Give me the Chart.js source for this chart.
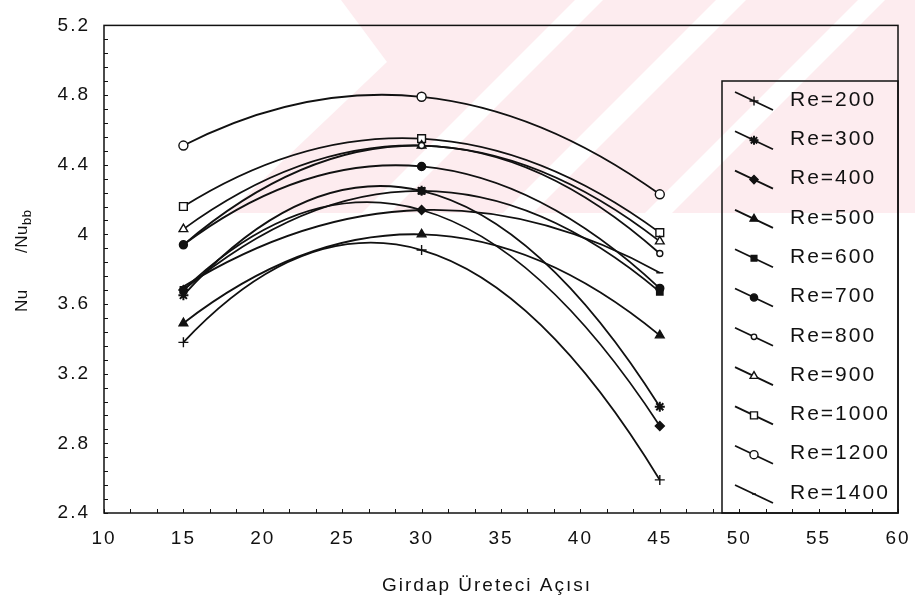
<!DOCTYPE html>
<html>
<head>
<meta charset="utf-8">
<script src="https://cdn.jsdelivr.net/npm/chart.js@4.4.0/dist/chart.umd.min.js"></script>
<style>
    html, body { margin: 0; padding: 0; background: #fff; }
    #wrap { width: 915px; height: 596px; }
</style>
</head>
<body>
<div id="wrap"><canvas id="nuChart" width="915" height="596"></canvas></div>
<script>
// Girdap üreteci açısı (x ekseni)
var angles = [15, 30, 45];
var reLabels = ['Re=200', 'Re=300', 'Re=400', 'Re=500', 'Re=600', 'Re=700',
                'Re=800', 'Re=900', 'Re=1000', 'Re=1200', 'Re=1400'];

// Nu/Nu_bb degerleri, aci sirasiyla 15, 30, 45
var re200  = [3.38, 3.91, 2.59];
var re300  = [3.65, 4.25, 3.01];
var re400  = [3.68, 4.14, 2.90];
var re500  = [3.49, 4.00, 3.42];
var re600  = [3.68, 4.25, 3.67];
var re700  = [3.94, 4.39, 3.69];
var re800  = [3.94, 4.51, 3.89];
var re900  = [4.03, 4.51, 3.96];
var re1000 = [4.16, 4.55, 4.01];
var re1200 = [4.51, 4.79, 4.23];
var re1400 = [3.70, 4.14, 3.78];

var xTicks = [10, 15, 20, 25, 30, 35, 40, 45, 50, 55, 60];
var yTicks = [2.4, 2.8, 3.2, 3.6, 4, 4.4, 4.8, 5.2];

var seriesValues = [re200, re300, re400, re500, re600, re700, re800, re900, re1000, re1200, re1400];

// isaret stilleri
var pointStyles = ['cross', 'star', 'rectRot', 'triangle', 'rect', 'circle', 'circle', 'triangle', 'rect', 'circle', 'line'];
var filled      = [false, true, true, true, true, true, false, false, false, false, false];
var radii       = [5, 5, 4.5, 5, 4.5, 4, 3, 5, 5.5, 4.5, 3.5];

var FONT = '"Liberation Sans", Arial, sans-serif';
var INK = '#111';

Chart.defaults.font.family = FONT;
Chart.defaults.color = INK;

// Soluk pembe filigran (arka plan)
var watermark = {
    id: 'watermark',
    beforeDraw: function (chart) {
        var ctx = chart.ctx;
        ctx.save();
        ctx.fillStyle = '#fff';
        ctx.fillRect(0, 0, chart.width, chart.height);
        ctx.fillStyle = '#fdecef';
        ctx.beginPath();
        ctx.moveTo(341, 0); ctx.lineTo(915, 0); ctx.lineTo(915, 213);
        ctx.lineTo(228, 213); ctx.lineTo(387, 62);
        ctx.closePath();
        ctx.fill();
        ctx.fillStyle = '#fff';
        [[575, 28], [716, 30], [858, 27]].forEach(function (s) {
            ctx.beginPath();
            ctx.moveTo(s[0], 0); ctx.lineTo(s[0] + s[1], 0);
            ctx.lineTo(s[0] + s[1] - 213, 213); ctx.lineTo(s[0] - 213, 213);
            ctx.closePath();
            ctx.fill();
        });
        ctx.restore();
        ctx.letterSpacing = '2px';
    }
};

// Uc noktadan gecen parabol: bezier kontrol noktalarini parabol teğetine göre ayarla
var parabola = {
    id: 'parabola',
    beforeDatasetsDraw: function (chart) {
        chart.data.datasets.forEach(function (ds, i) {
            var meta = chart.getDatasetMeta(i);
            var p = meta.data;
            if (p.length !== 3) return;
            meta.dataset.updateControlPoints(chart.chartArea, 'x');
            var a = p[0], b = p[1], c = p[2];
            function slope(x) {
                return a.y * ((x - b.x) + (x - c.x)) / ((a.x - b.x) * (a.x - c.x))
                     + b.y * ((x - a.x) + (x - c.x)) / ((b.x - a.x) * (b.x - c.x))
                     + c.y * ((x - a.x) + (x - b.x)) / ((c.x - a.x) * (c.x - b.x));
            }
            [[a, b], [b, c]].forEach(function (seg) {
                var s = seg[0], e = seg[1];
                var h = (e.x - s.x) / 3;
                s.cp2x = s.x + h; s.cp2y = s.y + slope(s.x) * h;
                e.cp1x = e.x - h; e.cp1y = e.y - slope(e.x) * h;
            });
            meta.dataset._path = undefined;
        });
    }
};

// Cerceve, ic tik cizgileri, lejant ve eksen basliklari
var decorations = {
    id: 'decorations',
    afterDraw: function (chart) {
        var ctx = chart.ctx;
        var a = chart.chartArea;
        var x = chart.scales.x, y = chart.scales.y;
        ctx.save();
        ctx.strokeStyle = INK;
        ctx.lineWidth = 1.5;
        ctx.strokeRect(a.left, a.top, a.right - a.left, a.bottom - a.top);

        ctx.lineWidth = 1;
        ctx.beginPath();
        for (var v = 10; v <= 60.001; v += 5 / 3) {
            var px = Math.round(x.getPixelForValue(v)) + 0.5;
            ctx.moveTo(px, a.bottom); ctx.lineTo(px, a.bottom - 4);
        }
        for (var w = 2.4; w <= 5.2001; w += 0.08) {
            var py = Math.round(y.getPixelForValue(w)) + 0.5;
            ctx.moveTo(a.left, py); ctx.lineTo(a.left + 4, py);
        }
        ctx.stroke();

        // lejant
        var left = 722, top = 81;
        ctx.lineWidth = 1.5;
        ctx.strokeRect(left, top, a.right - left, a.bottom - top);
        ctx.font = '21px ' + FONT;
        ctx.letterSpacing = '2px';
        ctx.textBaseline = 'middle';
        ctx.textAlign = 'left';
        chart.data.datasets.forEach(function (ds, i) {
            var cy = 100 + i * 39.3;
            ctx.strokeStyle = INK;
            ctx.lineWidth = 1.8;
            ctx.beginPath();
            ctx.moveTo(735, cy - 8);
            ctx.lineTo(773, cy + 10);
            ctx.stroke();
            ctx.fillStyle = ds.pointBackgroundColor;
            ctx.lineWidth = ds.pointBorderWidth;
            Chart.helpers.drawPoint(ctx, {
                pointStyle: ds.pointStyle, rotation: 0,
                radius: ds.pointStyle === 'line' ? 2 : ds.pointRadius * 0.9, borderWidth: ds.pointBorderWidth
            }, 754, cy + 1);
            ctx.fillStyle = INK;
            ctx.fillText(ds.label, 790, cy);
        });

        // x ekseni basligi
        ctx.font = '19px ' + FONT;
        ctx.textAlign = 'center';
        ctx.fillText('Girdap Üreteci Açısı', 487, 586);

        // y ekseni basligi
        ctx.letterSpacing = '0.5px';
        ctx.translate(27, 312);
        ctx.rotate(-Math.PI / 2);
        ctx.textAlign = 'left';
        ctx.textBaseline = 'alphabetic';
        ctx.font = '17px ' + FONT;
        ctx.fillText('Nu', 0, 0);
        ctx.fillText('/Nu', 59, 0);
        var sub = 59 + ctx.measureText('/Nu').width;
        ctx.font = '13px ' + FONT;
        ctx.fillText('bb', sub, 4);
        ctx.restore();
    }
};

var datasets = seriesValues.map(function (vals, i) {
    return {
        label: reLabels[i],
        data: angles.map(function (ang, j) { return { x: ang, y: vals[j] }; }),
        borderColor: INK,
        borderWidth: 1.8,
        tension: 0.4,
        fill: false,
        pointStyle: pointStyles[i],
        pointRadius: radii[i],
        pointBorderWidth: pointStyles[i] === 'star' ? 2 : 1.4,
        pointBorderColor: INK,
        pointBackgroundColor: filled[i] ? INK : '#fff'
    };
});

var ctx = document.getElementById('nuChart').getContext('2d');
var nuChart = new Chart(ctx, {
    type: 'line',
    data: { datasets: datasets },
    options: {
        responsive: false,
        animation: false,
        layout: { padding: { left: 0, right: 17, top: 18, bottom: 0 } },
        plugins: {
            legend: { display: false },
            tooltip: { enabled: false }
        },
        scales: {
            x: {
                type: 'linear',
                min: 10,
                max: 60,
                grid: { display: false, drawTicks: false },
                border: { display: false },
                ticks: { padding: 14, color: INK, font: { size: 19 }, maxRotation: 0 },
                afterBuildTicks: function (s) { s.ticks = xTicks.map(function (v) { return { value: v }; }); },
                afterFit: function (s) { s.height = 596 - 513; s.paddingLeft = 0; s.paddingRight = 0; }
            },
            y: {
                type: 'linear',
                min: 2.4,
                max: 5.2,
                grid: { display: false, drawTicks: false },
                border: { display: false },
                ticks: { padding: 14, color: INK, font: { size: 19 }, callback: function (v) { return String(v); } },
                afterBuildTicks: function (s) { s.ticks = yTicks.map(function (v) { return { value: v }; }); },
                afterFit: function (s) { s.width = 104; }
            }
        }
    },
    plugins: [watermark, parabola, decorations]
});
</script>
</body>
</html>
